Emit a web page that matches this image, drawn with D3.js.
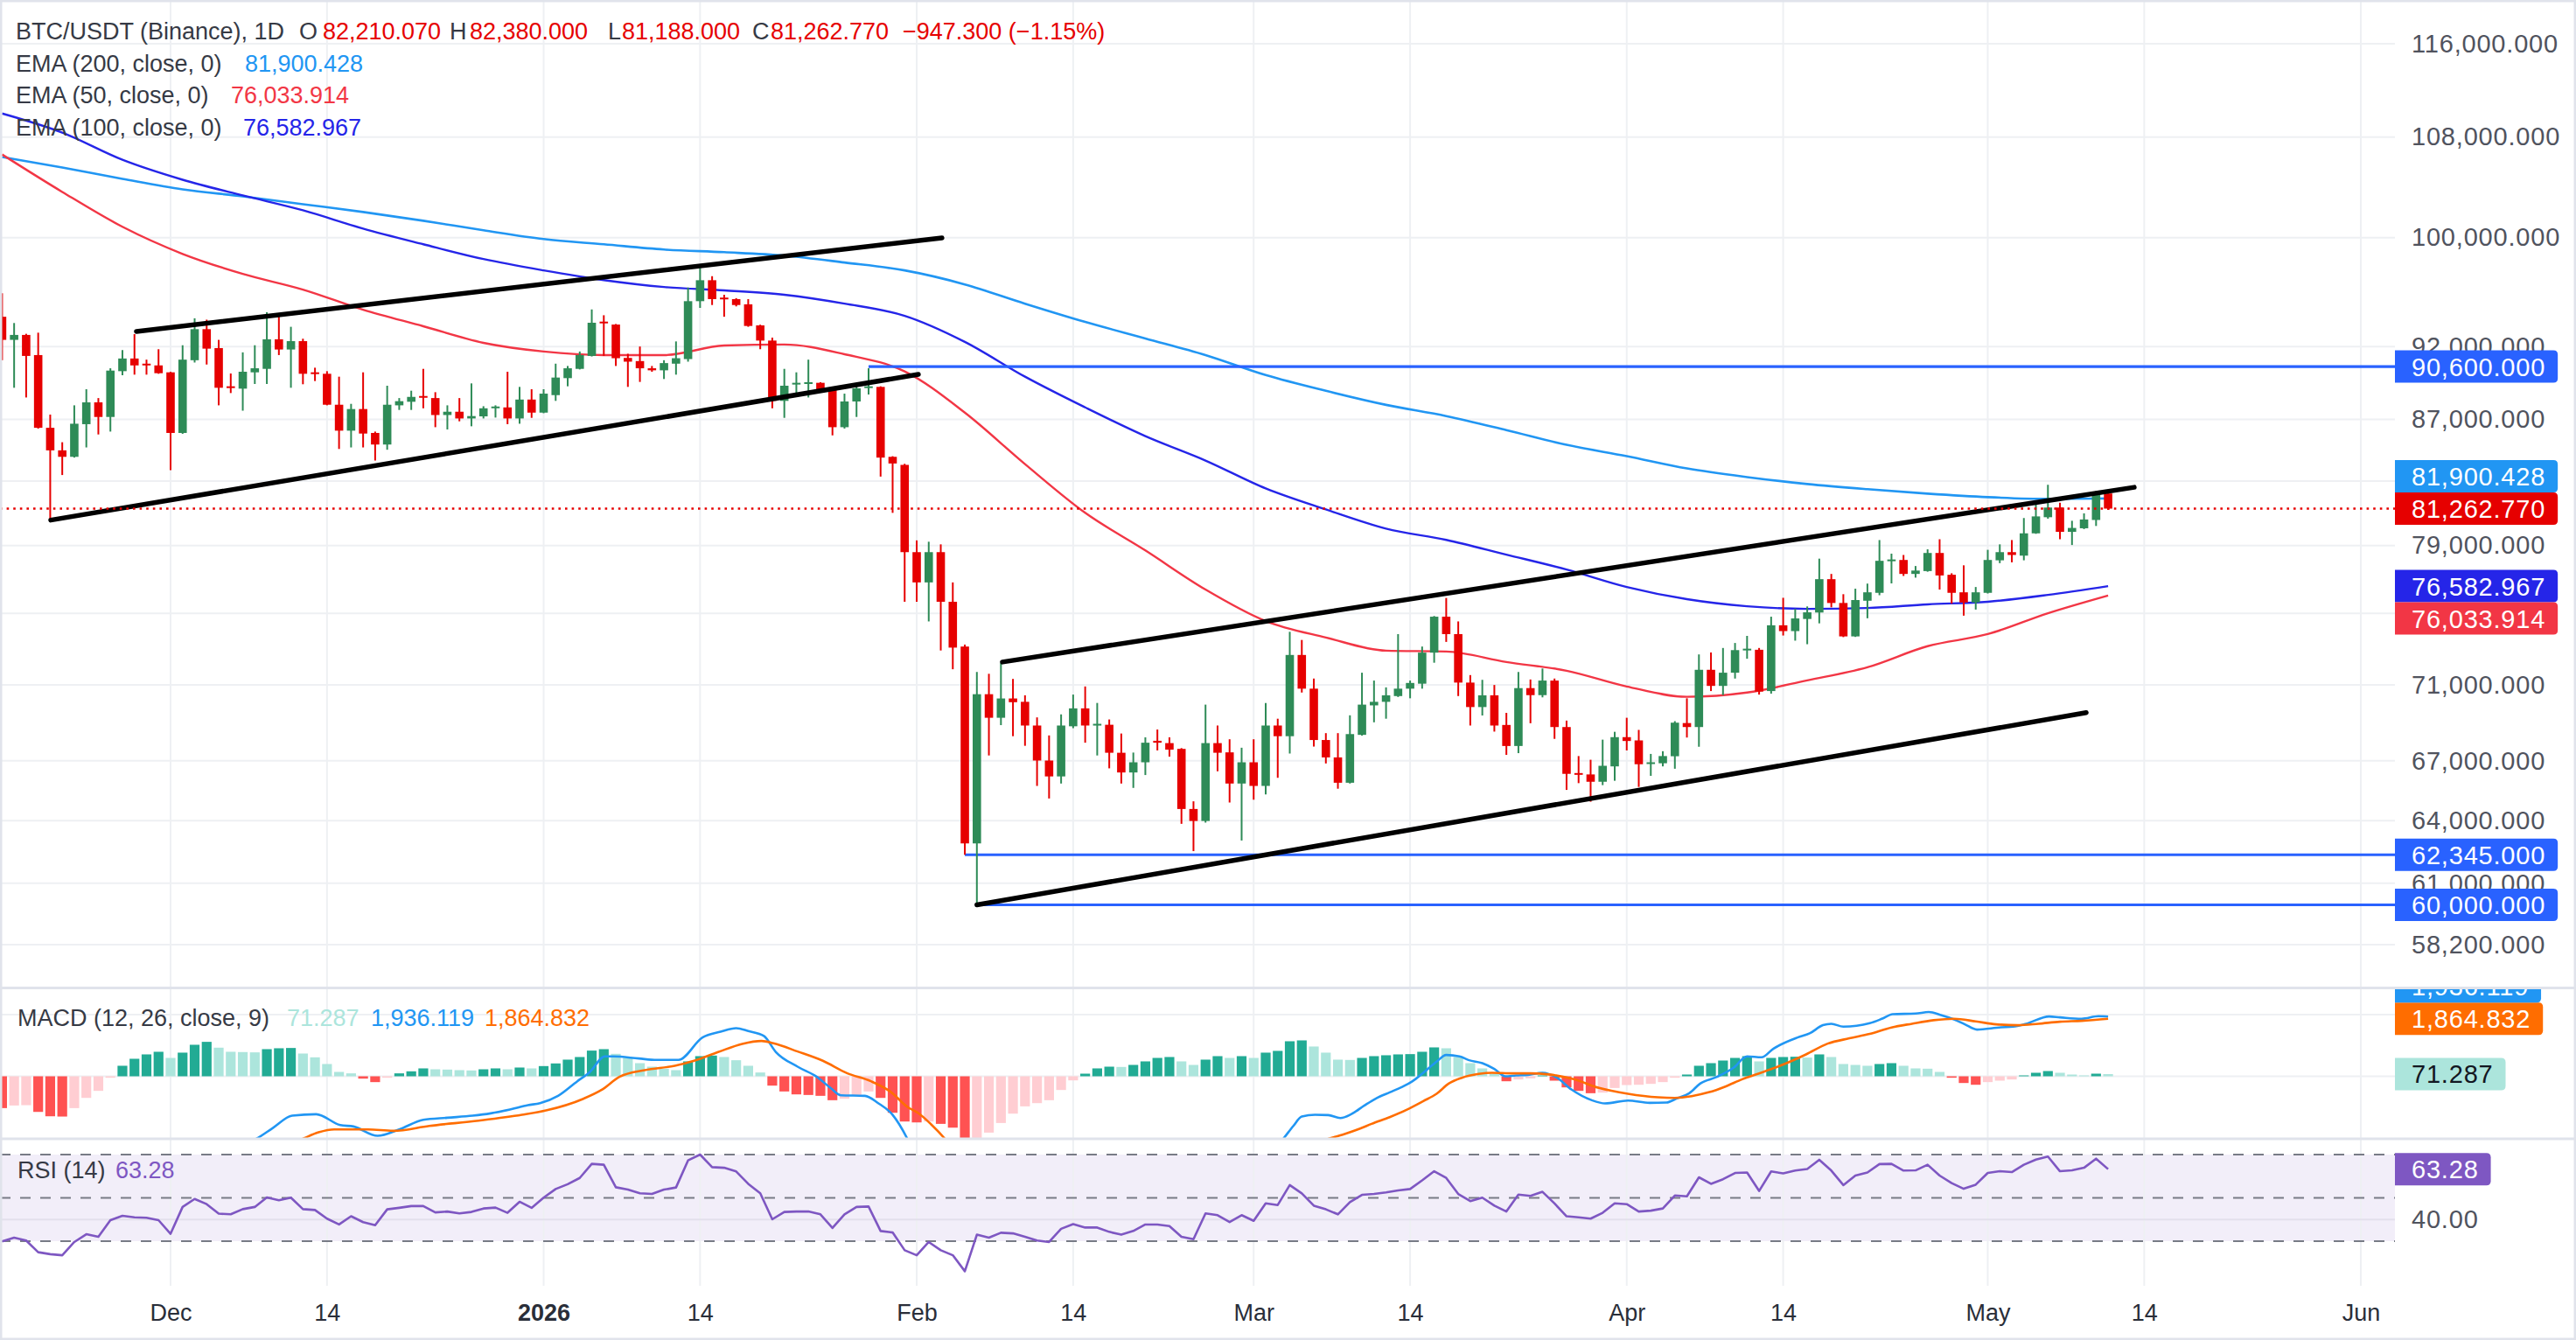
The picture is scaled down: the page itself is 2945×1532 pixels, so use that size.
<!DOCTYPE html>
<html><head><meta charset="utf-8">
<script src="https://cdn.jsdelivr.net/npm/d3@7"></script>
<style>
html,body{margin:0;padding:0;background:#fff;}
svg{display:block;font-family:"Liberation Sans",Arial,sans-serif;}
</style></head><body>
<svg id="c" width="2945" height="1532"></svg>
<script>
// ---------------- DATA ----------------
const startDay = "2025-11-17"; // first candle, daily candles
const open = [
94120,92470,92820,91400,86450,84970,84550,86690,88150,87170,
90280,91160,90800,90680,90200,86110,91040,93230,91890,89240,
89080,90200,90440,92510,91790,92380,90200,90100,87990,86260,
87700,86110,85350,87950,88190,88580,88440,87300,87520,87070,
87210,87790,87810,87070,88340,87460,88640,89800,90440,91340,
93770,93560,91200,90980,90480,90340,90800,91120,95250,96790,
95510,95400,95020,93500,92420,88250,89400,89440,89480,89140,
86490,88210,89140,89200,84550,84030,78600,76800,78600,75670,
73120,62890,70500,69240,70270,70090,68830,67010,66200,68790,
69740,68870,68870,67410,66400,66920,68030,67910,67610,64570,
63980,67910,67430,65840,66920,65720,68830,68270,72650,70800,
68070,67170,65880,68340,69900,70090,70400,70800,71070,72780,
74810,73820,71130,69810,70440,68860,67760,70830,70450,71240,
68750,66370,66300,65930,66710,68220,68050,66870,66870,67230,
68960,68750,71830,70950,71670,72940,72940,70670,74320,73990,
74680,75050,76990,75600,73690,75730,76190,78110,78130,77300,
77470,78550,77250,76220,75630,76190,78110,78600,78390,79740,
80730,81330,79830,80050,80560,82210.07];
const high = [
95830,93670,92900,92980,87330,85500,87950,89040,88440,90480,
91750,92880,91080,91810,90240,92090,94010,93910,92470,90120,
91590,92090,94450,94300,93400,92550,90520,90280,89900,88050,
90200,86200,89280,88440,88940,90440,88840,87950,88440,89440,
87890,87950,90240,89200,89040,89040,90800,90640,91650,94650,
94230,93600,91490,92000,90640,91040,92360,96250,97710,97090,
95720,95470,95400,93550,92630,90440,90200,91080,89520,89200,
88740,89280,90480,89240,84590,84100,79310,79230,79070,76800,
73230,71710,71610,72220,71330,70440,69260,68310,69420,70480,
70920,70030,69150,68410,67420,68210,68620,68210,67650,64950,
69940,68830,68110,67670,68110,70030,69190,73950,73490,71350,
68430,68430,69370,71670,71240,70870,73820,71240,73120,74850,
75890,74540,71540,71280,71000,69500,71710,71300,71900,71350,
69090,67240,67050,68090,68500,69240,68600,67350,67490,69060,
70280,72680,72790,73040,73320,73720,73040,74810,75900,75260,
75400,78210,77300,76110,76430,76730,79330,78510,78430,77770,
78770,79380,77340,77810,76530,78740,79070,79330,80680,81660,
82760,81630,80510,80970,82360,82380];
const low = [
91040,89140,88480,86400,80550,83380,84500,85160,86010,86200,
90000,90040,90040,90100,83690,86050,90880,90740,87950,88780,
87590,89400,89400,91400,89140,89380,89600,87950,85060,85160,
85160,84310,85010,87640,87640,87750,86490,86340,86880,86550,
87070,87130,86690,86720,87110,87420,88250,89240,90400,91300,
91340,90640,89200,89540,90240,89740,90040,90940,94760,94970,
94120,94870,93400,91810,87750,87110,88540,88480,88840,85950,
86400,87170,88680,83280,81000,75670,75670,74540,72900,71860,
62345,60000,67270,68850,68270,67770,65720,65090,65840,68690,
67930,67270,66610,65840,65620,66270,67530,67210,63840,62520,
63900,66460,64890,63030,65030,65290,66130,67370,70590,67730,
66860,65580,65840,68300,69000,69190,70350,70280,70800,72220,
73380,70400,68830,69360,68510,67300,67390,68950,70330,68130,
65520,65860,64930,65760,65980,67530,65670,66230,66710,66590,
68200,67720,70670,70450,71350,72440,70480,70530,73740,73450,
73250,74430,75350,73650,73660,74720,76050,76740,77180,77080,
77430,76380,75560,74870,75220,76150,77940,77990,78110,79710,
80640,79380,79030,80000,80190,81188];
const close = [
92470,92820,91340,86450,84970,84550,86720,88150,87170,90320,
91160,90680,90680,90140,86110,91080,93230,91850,89140,89140,
90240,90480,92510,91790,92380,90100,90100,87990,86260,87700,
86070,85350,87990,88230,88520,88480,87300,87520,87070,87230,
87750,87870,87070,88340,87460,88740,89840,90480,91400,93690,
93660,91180,90940,90480,90340,90840,91180,95250,96790,95400,
95400,94970,93460,92420,88250,89280,89480,89520,89040,86490,
88210,89100,89240,84500,84120,78600,76800,78600,75670,73060,
62890,70500,69240,70270,70070,68830,67010,66200,68830,69740,
68830,68920,67410,66400,66920,67930,67930,67570,64570,63980,
67910,67410,65840,66920,65720,68830,68270,72650,70800,68070,
67170,65880,68380,69940,70090,70440,70800,71110,72780,74810,
73820,71130,69810,70440,68830,67760,70830,70450,71240,68750,
66330,66300,65930,66740,68220,68020,66820,66920,67240,68980,
68750,71830,70950,71670,72920,73000,70640,74320,73990,74710,
75060,76990,75600,73690,75770,76220,78080,78160,77300,77500,
78550,77210,76190,75630,76220,78130,78600,78430,79740,80780,
81330,79830,80070,80590,82210,81262.77];

// EMA lines, sampled every 5th candle (candle index)
const emaIdx = [0,5,10,15,20,25,30,35,40,45,50,55,60,65,70,75,80,85,90,95,100,105,110,115,120,125,130,135,140,145,150,155,160,165,170,175];
const ema200 = [106360,105510,104600,103760,103210,102590,101980,101300,100560,99890,99490,99090,98890,98630,98110,97520,96480,95070,93750,92570,91400,90010,88930,87980,87230,86300,85330,84590,83800,83250,82810,82480,82200,81980,81870,81900.428];
const ema100 = [109970,108370,106140,104530,103280,102110,100690,99490,98370,97520,96800,96290,96040,95720,95070,94190,92330,89900,87810,85900,84310,82530,81210,80030,79340,78450,77560,76530,75820,75410,75260,75310,75520,75670,76070,76582.967];
const ema50  = [106570,103560,100830,98760,97260,96100,94630,93440,92260,91650,91400,91400,92070,92140,91460,90260,87460,84080,81000,78700,76380,74560,73630,72890,72840,72260,71780,70920,70360,70590,71250,71970,73140,73820,75010,76033.914];

// MACD (12,26,9) — histogram per candle, lines sampled (candle index, value)
const macdHist = [
-1032,-947,-937,-1155,-1297,-1306,-1032,-701,-473,-47,
341,568,710,795,596,767,1022,1117,928,795,
786,776,880,909,918,738,615,398,142,95,
-76,-189,-47,95,161,256,227,218,199,189,
227,256,227,284,256,331,417,540,625,833,
880,729,596,426,312,246,199,483,653,672,
625,521,341,123,-303,-492,-587,-606,-634,-776,
-729,-634,-492,-701,-1183,-1467,-1496,-1467,-1543,-1666,
-2460,-2272,-1827,-1515,-1212,-975,-871,-776,-445,-133,
85,256,312,303,369,483,596,625,483,369,
540,653,596,653,596,767,824,1136,1164,966,
767,540,530,596,653,682,710,719,795,937,
909,625,426,256,85,-161,-104,-66,28,-142,
-360,-473,-549,-530,-379,-284,-275,-246,-189,-47,
57,341,426,511,596,653,483,596,625,634,
606,710,625,398,369,341,398,426,341,256,
246,142,-47,-218,-275,-189,-142,-104,28,114,
170,114,57,28,85,71.287];
const macdIdx = [0,3,5,7,10,13,16,19,21,22.5,24.1,26.1,28.1,29.2,31.2,33,35,37,39.1,40.6,42.2,43.7,44.7,46.2,47.8,48.8,50.1,50.8,52.9,54.4,56.2,58.2,59.7,61,62,63.3,64.3,66.1,67.7,68.9,69.7,71.7,72.8,74,75.2,76,78,80,83,86,89,92,95,98,101,104,106.5,107.3,108,109.1,110.2,111.2,112.1,113.2,114.2,115.3,116.3,117.2,118.1,119.2,120,121.1,121.9,123,124,124.9,125.8,126.8,128,129.2,130.4,132.1,133.2,135.1,136.9,138.3,139.2,140.2,141.1,142.5,143.9,145,146.2,147.2,149.2,150.2,151.3,152,153,155.2,156.2,157.1,159,160.1,161.1,162.2,163.1,164.1,166.1,167.1,168.2,170.1,171,172.8,174.2,175];
const macdVal = [-3400,-3800,-3950,-3800,-3300,-2850,-2500,-2250,-2050,-1676,-1278,-1231,-1581,-1628,-1931,-1723,-1411,-1344,-1278,-1202,-1079,-937,-871,-634,-161,123,644,644,577,530,530,1259,1448,1562,1467,1306,786,312,-19,-398,-615,-634,-871,-1250,-2007,-2680,-3500,-5500,-6000,-5900,-5300,-4700,-4200,-3900,-3500,-3000,-2007,-1609,-1307,-1250,-1259,-1354,-1231,-947,-710,-521,-350,-161,114,473,691,644,521,426,237,0,28,47,114,-47,-426,-776,-880,-786,-861,-852,-710,-549,-237,-19,284,644,615,899,1259,1392,1657,1704,1609,1723,1865,2016,2035,2083,1988,1846,1685,1515,1590,1609,1704,1941,1912,1865,1950,1936.119];
const sigIdx = [0,3,5,7,10,13,16,19,22,24,25.1,26.3,27.6,30.4,32.5,35.5,39.6,43.2,45.2,48.3,49.8,51.3,53.4,55.9,57.5,59.5,61.5,63.1,64.1,66.1,68.2,70.2,72.2,73.8,75.3,76.1,77.2,78.3,80,83,86,89,92,95,98,101,104,107,110.2,111.4,112.8,113.8,115.3,116.7,118.1,119.2,120.2,121.3,122.7,123.8,125.5,127,128.5,130.6,132.7,135.1,137.6,139,140.4,141.8,143.2,144.6,146,148.1,149.9,151.7,153.5,155.2,157,158.7,160.5,162.2,164,165.7,167.5,169.2,171,172.8,175];
const sigVal = [-2370,-2650,-2700,-3100,-3600,-3650,-3520,-3050,-2560,-2200,-2007,-1818,-1723,-1723,-1770,-1609,-1439,-1250,-1108,-729,-445,-19,199,341,502,786,1051,1145,1070,805,502,104,-161,-492,-1013,-1183,-1560,-2007,-2900,-4450,-5000,-5150,-5000,-4700,-4380,-4150,-3600,-2750,-2030,-1893,-1704,-1543,-1325,-1088,-804,-568,-237,-47,76,114,95,95,60,-95,-379,-568,-682,-700,-644,-521,-331,-95,95,398,710,1060,1231,1373,1581,1704,1818,1865,1780,1685,1657,1704,1770,1799,1864.832];

// RSI (14) per candle
const rsi = [
29.9,31.6,30.3,24.9,24.0,23.5,29.6,33.2,32.0,39.7,
41.7,41.0,40.8,39.7,33.4,45.8,49.5,47.1,42.7,42.4,
44.8,45.8,50.2,48.9,50.1,44.8,44.4,40.4,37.7,41.5,
38.8,37.4,44.7,45.4,46.2,46.2,43.3,43.7,42.8,43.5,
45.1,45.5,43.1,48.2,45.4,50.1,54.1,56.3,59.2,65.7,
65.3,54.9,53.8,52.1,51.8,53.8,54.8,67.3,70.0,64.2,
63.9,62.2,56.5,52.1,40.1,43.5,43.7,43.7,42.4,36.1,
42.4,45.8,46.0,34.7,34.0,25.8,23.5,29.6,25.8,23.5,
16.1,33.0,31.6,33.9,33.6,32.0,30.3,29.6,35.7,37.9,
36.3,36.3,34.3,33.0,34.7,37.7,37.7,37.0,32.0,30.9,
42.8,42.0,38.8,42.0,39.4,47.5,46.7,55.9,52.1,46.4,
44.7,42.4,48.0,51.4,51.8,52.5,53.4,54.1,58.1,62.3,
59.2,51.8,48.5,50.1,46.4,43.7,51.5,50.9,52.8,47.4,
41.5,41.0,40.4,43.1,47.5,47.1,43.7,44.1,45.1,51.1,
50.7,59.5,56.5,58.6,61.5,61.7,53.2,62.2,61.3,62.6,
63.3,67.6,62.6,55.9,60.3,61.7,65.6,65.7,62.6,62.7,
65.3,60.3,56.8,54.2,56.1,61.5,62.3,61.9,65.3,67.7,
69.1,62.3,62.7,63.9,68.1,63.28];

// Drawn trend lines: [startIdx, startPrice, endIdx, endPrice]
const trendLines = [
  [11.16, 93070, 78.1, 99980],
  [4.04, 80550, 76.14, 90060],
  [83.12, 72260, 177.17, 82600],
  [81, 60000, 173.18, 69510]
];
// Horizontal levels: [price, startIdx]
const levels = [[90600, 72], [62345, 80], [60000, 81]];

const priceTicks = [116000,108000,100000,92000,87000,83000,79000,75000,71000,67000,64000,61000,58200];
const xTickDays = ["2025-12-01","2025-12-14","2026-01-01","2026-01-14","2026-02-01","2026-02-14","2026-03-01","2026-03-14","2026-04-01","2026-04-14","2026-05-01","2026-05-14","2026-06-01"];
const xTickLabels = ["Dec","14","2026","14","Feb","14","Mar","14","Apr","14","May","14","Jun"];

// ---------------- CHART ----------------
const W = 2945, H = 1532, PR = 2738;
const svg = d3.select("#c");
const DAY = 864e5;
const t0 = new Date(startDay + "T00:00:00Z").getTime();
const dateAt = i => new Date(t0 + i * DAY);

const x = d3.scaleUtc().domain([new Date("2025-12-01T00:00:00Z"), new Date("2026-06-01T00:00:00Z")]).range([195, 2699]);
const y = d3.scaleLog().domain([58200, 116000]).range([1080, 50]);
const yM = d3.scaleLinear().domain([0, 2000]).range([1230.5, 1160]);
const yR = d3.scaleLinear().domain([30, 70]).range([1419, 1320]);

const defs = svg.append("defs");
function clip(id, x0, y0, w, h) { defs.append("clipPath").attr("id", id).append("rect").attr("x", x0).attr("y", y0).attr("width", w).attr("height", h); }
clip("cMain", 0, 0, PR, 1128);
clip("cMacd", 0, 1130, PR, 171);
clip("cRsi", 0, 1303, PR, 167);
clip("cMacdLab", PR, 1130, W - PR, 171);

svg.append("rect").attr("width", W).attr("height", H).attr("fill", "#fff");

// RSI band
svg.append("rect").attr("x", 0).attr("y", yR(70)).attr("width", PR).attr("height", yR(30) - yR(70)).attr("fill", "rgba(126,87,194,0.1)");

// vertical grid
const tickDates = xTickDays.map(s => new Date(s + "T00:00:00Z"));
svg.append("g").selectAll("line").data(tickDates).join("line")
  .attr("x1", d => x(d)).attr("x2", d => x(d)).attr("y1", 0).attr("y2", 1470)
  .attr("stroke", "#EEF0F3").attr("stroke-width", 2);
// horizontal grid main
svg.append("g").selectAll("line").data(priceTicks).join("line")
  .attr("x1", 0).attr("x2", PR).attr("y1", d => y(d)).attr("y2", d => y(d))
  .attr("stroke", "#EEF0F3").attr("stroke-width", 2);
// macd grid
svg.append("g").selectAll("line").data([0, 2000]).join("line")
  .attr("x1", 0).attr("x2", PR).attr("y1", d => yM(d)).attr("y2", d => yM(d))
  .attr("stroke", "#EEF0F3").attr("stroke-width", 2);
// rsi grid 40
svg.append("line").attr("x1", 0).attr("x2", PR).attr("y1", yR(40)).attr("y2", yR(40)).attr("stroke", "#E3E0EC").attr("stroke-width", 2);
// rsi dashed bands
svg.append("g").selectAll("line").data([70, 50, 30]).join("line")
  .attr("x1", 0).attr("x2", PR).attr("y1", d => yR(d)).attr("y2", d => yR(d))
  .attr("stroke", "#787B86").attr("stroke-width", 2.2).attr("stroke-dasharray", "12,11");

// ---- main pane ----
const gMain = svg.append("g").attr("clip-path", "url(#cMain)");
const idx = d3.range(open.length);
const UP = "#2e8b57", DN = "#e60000";
const col = i => close[i] >= open[i] ? UP : DN;

// EMA lines
const emaLine = arr => d3.line().x((d, k) => x(dateAt(emaIdx[k]))).y(d => y(d)).curve(d3.curveMonotoneX)(arr);
gMain.append("path").attr("d", emaLine(ema200)).attr("fill", "none").attr("stroke", "#2196F3").attr("stroke-width", 2.6);
gMain.append("path").attr("d", emaLine(ema100)).attr("fill", "none").attr("stroke", "#2525E8").attr("stroke-width", 2.4);
gMain.append("path").attr("d", emaLine(ema50)).attr("fill", "none").attr("stroke", "#F23645").attr("stroke-width", 2.4);

// horizontal levels
gMain.selectAll(".lvl").data(levels).join("line")
  .attr("x1", d => x(dateAt(d[1]))).attr("x2", PR).attr("y1", d => y(d[0])).attr("y2", d => y(d[0]))
  .attr("stroke", "#2962FF").attr("stroke-width", 3.2);

// candles
gMain.selectAll(".wick").data(idx).join("line")
  .attr("x1", i => x(dateAt(i))).attr("x2", i => x(dateAt(i)))
  .attr("y1", i => y(high[i])).attr("y2", i => y(low[i]))
  .attr("stroke", col).attr("stroke-width", 2);
const BW = 9.6;
gMain.selectAll(".body").data(idx).join("rect")
  .attr("x", i => x(dateAt(i)) - BW / 2).attr("width", BW)
  .attr("y", i => y(Math.max(open[i], close[i])))
  .attr("height", i => Math.max(2, y(Math.min(open[i], close[i])) - y(Math.max(open[i], close[i]))))
  .attr("fill", col);

// trend lines
gMain.selectAll(".tl").data(trendLines).join("line")
  .attr("x1", d => x(dateAt(d[0]))).attr("y1", d => y(d[1]))
  .attr("x2", d => x(dateAt(d[2]))).attr("y2", d => y(d[3]))
  .attr("stroke", "#000").attr("stroke-width", 5.5).attr("stroke-linecap", "round");

// last price dotted line
const lastClose = close[close.length - 1];
gMain.append("line").attr("x1", 0).attr("x2", PR).attr("y1", y(lastClose)).attr("y2", y(lastClose))
  .attr("stroke", DN).attr("stroke-width", 2.5).attr("stroke-dasharray", "2.6,5");

// ---- MACD pane ----
const gMacd = svg.append("g").attr("clip-path", "url(#cMacd)");
const histCol = (h, i) => {
  const p = i > 0 ? macdHist[i - 1] : h;
  if (h >= 0) return h > p ? "#22AB94" : "#ACE5DC";
  return h > p ? "#FFCDD2" : "#FF5252";
};
gMacd.selectAll(".hb").data(macdHist).join("rect")
  .attr("x", (d, i) => x(dateAt(i)) - 5.6).attr("width", 11.2)
  .attr("y", d => Math.min(yM(d), yM(0))).attr("height", d => Math.abs(yM(d) - yM(0)))
  .attr("fill", histCol);
const sLine = (ix) => d3.line().x((d, k) => x(dateAt(ix[k]))).y(d => yM(d)).curve(d3.curveMonotoneX);
gMacd.append("path").attr("d", sLine(macdIdx)(macdVal)).attr("fill", "none").attr("stroke", "#2196F3").attr("stroke-width", 2.6);
gMacd.append("path").attr("d", sLine(sigIdx)(sigVal)).attr("fill", "none").attr("stroke", "#FF6D00").attr("stroke-width", 2.6);

// ---- RSI pane ----
const gRsi = svg.append("g").attr("clip-path", "url(#cRsi)");
gRsi.append("path").attr("d", d3.line().x((d, i) => x(dateAt(i))).y(d => yR(d))(rsi))
  .attr("fill", "none").attr("stroke", "#7E57C2").attr("stroke-width", 2.6).attr("stroke-linejoin", "round");

// ---- price labels (computed first so covered tick labels can be hidden) ----
const LH = 37;
function place(list) {
  const placed = [];
  list.forEach(l => {
    let yy = l.y0;
    for (let k = 0; k < 6; k++) {
      let moved = false;
      placed.forEach(p => {
        if (Math.abs(yy - p.y) < LH - 0.5) { yy = (l.y0 < p.y0) ? p.y - LH : p.y + LH; moved = true; }
      });
      if (!moved) break;
    }
    l.y = yy; placed.push(l);
  });
  return list;
}
const fmt3 = d3.format(",.3f");
const e200 = ema200[ema200.length - 1], e100 = ema100[ema100.length - 1], e50 = ema50[ema50.length - 1];
const mainLabels = place([
  { y0: y(lastClose), text: fmt3(lastClose), bg: "#E60000", fg: "#fff" },
  { y0: y(e100), text: fmt3(e100), bg: "#2525E8", fg: "#fff" },
  { y0: y(e200), text: fmt3(e200), bg: "#2196F3", fg: "#fff" },
  { y0: y(e50), text: fmt3(e50), bg: "#F23645", fg: "#fff" },
  { y0: y(levels[0][0]), text: fmt3(levels[0][0]), bg: "#2962FF", fg: "#fff" },
  { y0: y(levels[1][0]), text: fmt3(levels[1][0]), bg: "#2962FF", fg: "#fff" },
  { y0: y(levels[2][0]), text: fmt3(levels[2][0]), bg: "#2962FF", fg: "#fff" }
]);

// ---- axes ----
const axisFont = g => g.selectAll("text").attr("font-size", 29).attr("letter-spacing", "0.8px").attr("fill", "#50535E").attr("font-family", "Liberation Sans, Arial, sans-serif");
const visibleTicks = priceTicks.filter(t => !mainLabels.some(l => Math.abs(l.y - y(t)) < LH / 2));
const gy = svg.append("g").attr("transform", `translate(${PR},0)`)
  .call(d3.axisRight(y).tickValues(visibleTicks).tickFormat(d3.format(",.3f")).tickSize(0).tickPadding(19));
gy.select(".domain").remove(); axisFont(gy);
const gyR = svg.append("g").attr("transform", `translate(${PR},0)`)
  .call(d3.axisRight(yR).tickValues([40]).tickFormat(d3.format(".2f")).tickSize(0).tickPadding(19));
gyR.select(".domain").remove(); axisFont(gyR);

const gx = svg.append("g").attr("transform", "translate(0,1470)")
  .call(d3.axisBottom(x).tickValues(tickDates).tickFormat((d, i) => xTickLabels[i]).tickSize(0).tickPadding(21));
gx.select(".domain").remove();
gx.selectAll("text").attr("font-size", 27).attr("fill", "#2A2E39").attr("font-family", "Liberation Sans, Arial, sans-serif")
  .attr("font-weight", (d, i) => xTickLabels[i] === "2026" ? "bold" : "normal");

function labelPath(x0, y0, w, h, r) {
  return `M${x0},${y0}H${x0 + w - r}Q${x0 + w},${y0} ${x0 + w},${y0 + r}V${y0 + h - r}Q${x0 + w},${y0 + h} ${x0 + w - r},${y0 + h}H${x0}Z`;
}
function drawLabels(list, clipId) {
  const g = svg.append("g");
  if (clipId) g.attr("clip-path", `url(#${clipId})`);
  list.forEach(l => {
    const gg = g.append("g");
    const t = gg.append("text").attr("x", PR + 19).attr("y", l.y).attr("dy", "0.36em")
      .attr("font-size", 29).attr("letter-spacing", "0.8px").attr("fill", l.fg).text(l.text);
    const w = t.node().getComputedTextLength() + 19 + 14;
    gg.insert("path", "text").attr("d", labelPath(PR, l.y - LH / 2, w, LH, 5)).attr("fill", l.bg);
  });
}
drawLabels(mainLabels, null);
const lastMacd = macdVal[macdVal.length - 1], lastSig = sigVal[sigVal.length - 1], lastHist = macdHist[macdHist.length - 1];
const macdLabels = place([
  { y0: yM(lastSig), text: fmt3(lastSig), bg: "#FF6D00", fg: "#fff" },
  { y0: yM(lastMacd), text: fmt3(lastMacd), bg: "#2196F3", fg: "#fff" },
  { y0: yM(lastHist), text: fmt3(lastHist), bg: "#ACE5DC", fg: "#131722" }
]);
drawLabels(macdLabels, "cMacdLab");
const lastRsi = rsi[rsi.length - 1];
drawLabels([{ y: yR(lastRsi), text: d3.format(".2f")(lastRsi), bg: "#7E57C2", fg: "#fff" }], null);

// ---- pane separators & border ----
svg.append("g").selectAll("line").data([1129.5, 1302]).join("line")
  .attr("x1", 0).attr("x2", W).attr("y1", d => d).attr("y2", d => d)
  .attr("stroke", "#E0E3EB").attr("stroke-width", 3);
svg.append("rect").attr("x", 1).attr("y", 1).attr("width", W - 2).attr("height", H - 2)
  .attr("fill", "none").attr("stroke", "#E0E3EB").attr("stroke-width", 3);

// ---- legends ----
const LF = 27;
function legendRow(yb, parts) {
  const t = svg.append("text").attr("y", yb).attr("font-size", LF);
  parts.forEach(p => t.append("tspan").attr("x", p[0]).attr("fill", p[2]).text(p[1]));
}
const gray = "#363A45", red = "#E60000";
const chg = lastClose - open[open.length - 1];
legendRow(45, [
  [18, "BTC/USDT (Binance), 1D", gray],
  [342, "O", gray], [369, fmt3(open[open.length - 1]), red],
  [514, "H", gray], [537, fmt3(high[high.length - 1]), red],
  [695, "L", gray], [711, fmt3(low[low.length - 1]), red],
  [860, "C", gray], [881, fmt3(lastClose), red],
  [1032, d3.format(".3f")(chg) + " (" + d3.format(".2f")(chg / open[open.length - 1] * 100).replace("-", "\u2212") + "%)", red]
]);
legendRow(82, [[18, "EMA (200, close, 0)", gray], [280, fmt3(e200), "#2196F3"]]);
legendRow(118, [[18, "EMA (50, close, 0)", gray], [264, fmt3(e50), "#F23645"]]);
legendRow(155, [[18, "EMA (100, close, 0)", gray], [278, fmt3(e100), "#2525E8"]]);
legendRow(1173, [[20, "MACD (12, 26, close, 9)", gray], [328, fmt3(lastHist), "#ACE5DC"], [424, fmt3(lastMacd), "#2196F3"], [554, fmt3(lastSig), "#FF6D00"]]);
legendRow(1347, [[20, "RSI (14)", gray], [132, d3.format(".2f")(lastRsi), "#7E57C2"]]);
</script>
</body></html>
